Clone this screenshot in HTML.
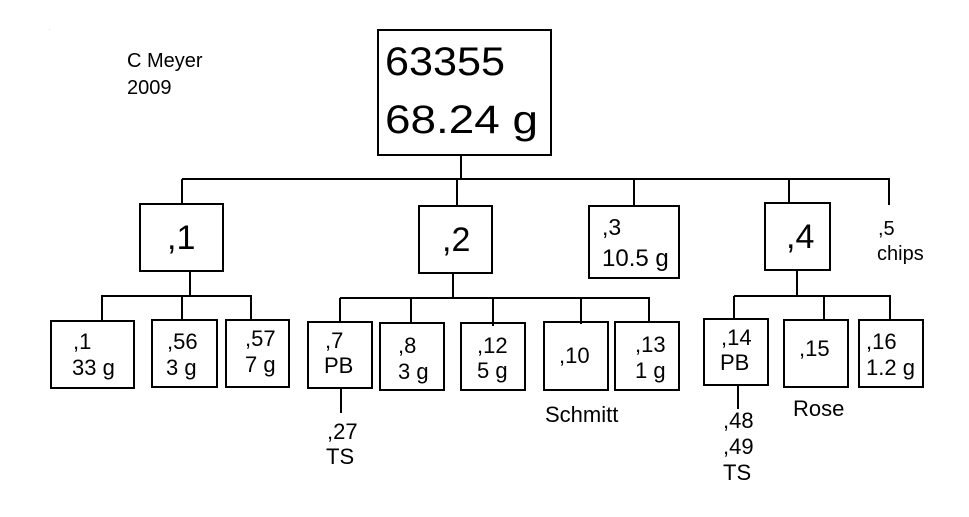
<!DOCTYPE html>
<html><head><style>
html,body{margin:0;padding:0;background:#fff;}
svg{display:block;}
text{font-family:"Liberation Sans",Arial,sans-serif;fill:#000;}
.s{font-size:22px;}
</style></head><body>
<svg width="969" height="517" viewBox="0 0 969 517" xmlns="http://www.w3.org/2000/svg">
<g stroke="#000" stroke-width="2" fill="none">
<rect x="378" y="30" width="173" height="125"/>
<line x1="461" y1="155" x2="461" y2="179"/>
<line x1="182" y1="179" x2="890" y2="179"/>
<line x1="182" y1="179" x2="182" y2="204"/>
<line x1="457" y1="179" x2="457" y2="206"/>
<line x1="634" y1="179" x2="634" y2="206"/>
<line x1="789" y1="179" x2="789" y2="203"/>
<line x1="889" y1="179" x2="889" y2="205"/>
<rect x="140" y="204" width="83" height="67"/>
<rect x="419" y="206" width="73" height="67"/>
<rect x="589" y="206" width="90" height="72"/>
<rect x="765" y="203" width="65" height="67"/>
<line x1="190" y1="271" x2="190" y2="296"/>
<line x1="101" y1="296" x2="252" y2="296"/>
<line x1="102" y1="296" x2="102" y2="321"/>
<line x1="182" y1="296" x2="182" y2="320"/>
<line x1="251" y1="296" x2="251" y2="320"/>
<rect x="51" y="321" width="83" height="67"/>
<rect x="152" y="320" width="65" height="67"/>
<rect x="226" y="320" width="63" height="67"/>
<line x1="453" y1="273" x2="453" y2="298"/>
<line x1="340" y1="298" x2="650" y2="298"/>
<line x1="340" y1="298" x2="340" y2="322"/>
<line x1="411" y1="298" x2="411" y2="323"/>
<line x1="493" y1="298" x2="493" y2="326"/>
<line x1="581" y1="298" x2="581" y2="324"/>
<line x1="649" y1="298" x2="649" y2="322"/>
<rect x="308" y="322" width="64" height="66"/>
<rect x="380" y="323" width="64" height="67"/>
<rect x="461" y="323" width="64" height="67"/>
<rect x="544" y="322" width="64" height="68"/>
<rect x="615" y="322" width="64" height="68"/>
<line x1="341" y1="388" x2="341" y2="413"/>
<line x1="797" y1="270" x2="797" y2="296"/>
<line x1="734" y1="296" x2="891" y2="296"/>
<line x1="734" y1="296" x2="734" y2="319"/>
<line x1="824" y1="296" x2="824" y2="320"/>
<line x1="890" y1="296" x2="890" y2="320"/>
<rect x="704" y="319" width="64" height="66"/>
<rect x="784" y="320" width="64" height="67"/>
<rect x="859" y="320" width="64" height="67"/>
<line x1="738" y1="385" x2="738" y2="409"/>
</g>
<text x="49" y="30" font-size="4">.</text>
<text x="127" y="67" font-size="20">C Meyer</text>
<text x="127" y="94" font-size="20">2009</text>
<text x="385" y="75" font-size="40" textLength="120" lengthAdjust="spacingAndGlyphs">63355</text>
<text x="385" y="133" font-size="40" textLength="153" lengthAdjust="spacingAndGlyphs">68.24 g</text>
<text x="167" y="249" font-size="34">,1</text>
<text x="442" y="251" font-size="34">,2</text>
<text x="602" y="235" font-size="23">,3</text>
<text x="602" y="266" font-size="24">10.5 g</text>
<text x="786" y="248" font-size="34">,4</text>
<text x="878" y="235" font-size="20">,5</text>
<text x="877" y="260" font-size="20">chips</text>
<text class="s" x="73" y="349">,1</text>
<text class="s" x="72" y="375">33 g</text>
<text class="s" x="167" y="349">,56</text>
<text class="s" x="166" y="375">3 g</text>
<text class="s" x="245" y="346">,57</text>
<text class="s" x="245" y="372">7 g</text>
<text class="s" x="325" y="348">,7</text>
<text class="s" x="324" y="373">PB</text>
<text class="s" x="398" y="353">,8</text>
<text class="s" x="398" y="379">3 g</text>
<text class="s" x="477" y="353">,12</text>
<text class="s" x="477" y="378">5 g</text>
<text class="s" x="559" y="363">,10</text>
<text class="s" x="635" y="352">,13</text>
<text class="s" x="635" y="378">1 g</text>
<text class="s" x="327" y="439">,27</text>
<text class="s" x="326" y="464">TS</text>
<text class="s" x="545" y="422">Schmitt</text>
<text class="s" x="721" y="345">,14</text>
<text class="s" x="720" y="370">PB</text>
<text class="s" x="799" y="356">,15</text>
<text class="s" x="866" y="349">,16</text>
<text class="s" x="866" y="375">1.2 g</text>
<text class="s" x="723" y="428">,48</text>
<text class="s" x="723" y="454">,49</text>
<text class="s" x="723" y="480">TS</text>
<text class="s" x="793" y="416">Rose</text>
</svg>
</body></html>
